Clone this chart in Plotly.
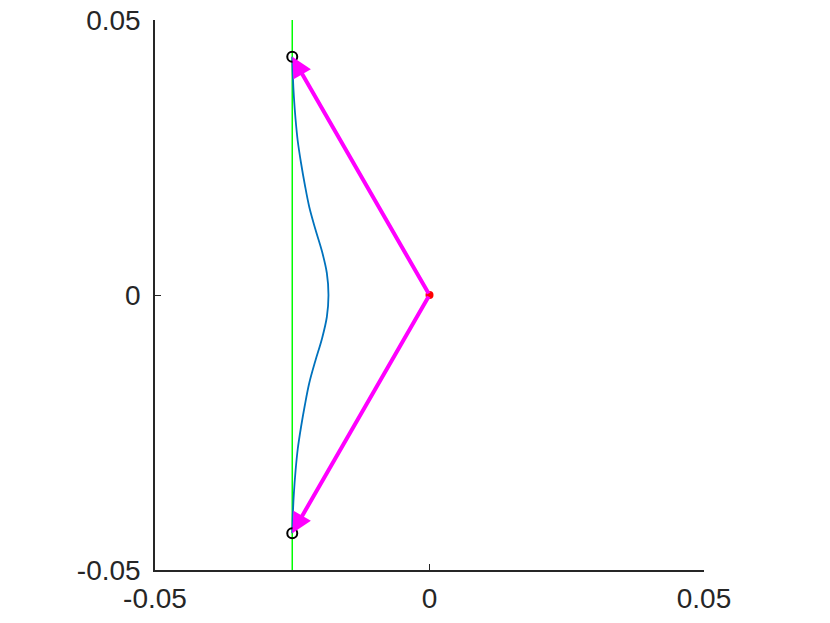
import plotly.graph_objects as go

# data
curve_y = [0.0433, 0.040, 0.036, 0.032, 0.028, 0.024, 0.020, 0.016, 0.012, 0.008, 0.004, 0.0,
           -0.004, -0.008, -0.012, -0.016, -0.020, -0.024, -0.028, -0.032, -0.036, -0.040, -0.0433]
curve_x = [-0.0250, -0.0249, -0.0247, -0.0244, -0.0240, -0.0234, -0.0227, -0.0219, -0.0208, -0.0196, -0.0187, -0.0184,
           -0.0187, -0.0196, -0.0208, -0.0219, -0.0227, -0.0234, -0.0240, -0.0244, -0.0247, -0.0249, -0.0250]
wall_x = [-0.025, -0.025]
wall_y = [-0.05, 0.05]
origin = (0.0, 0.0)
tips_x = [-0.025, -0.025]
tips_y = [0.0433, -0.0433]
tick_vals = [-0.05, 0, 0.05]
tick_text = ["-0.05", "0", "0.05"]

FONT = "Liberation Sans, Arial, sans-serif"
AXC = "#262626"

fig = go.Figure()
fig.add_trace(go.Scatter(x=wall_x, y=wall_y, mode="lines",
                         line=dict(color="#00ff00", width=1.5), showlegend=False))
fig.add_trace(go.Scatter(x=curve_x, y=curve_y, mode="lines",
                         line=dict(color="#0072bd", width=1.8, shape="spline"), showlegend=False))
for tx, ty in zip(tips_x, tips_y):
    fig.add_annotation(x=tx, y=ty, ax=origin[0], ay=origin[1], xref="x", yref="y",
                       axref="x", ayref="y", showarrow=True, text="",
                       arrowhead=2, arrowsize=1.0, arrowwidth=4, arrowcolor="#ff00ff")
fig.add_trace(go.Scatter(x=tips_x, y=tips_y, mode="markers",
                         marker=dict(symbol="circle-open", size=10, color="black", line=dict(width=2)),
                         showlegend=False))
fig.add_trace(go.Scatter(x=[origin[0]], y=[origin[1]], mode="markers",
                         marker=dict(symbol="circle", size=8, color="#ff0000"), showlegend=False))

axis_common = dict(range=[-0.05, 0.05], tickvals=tick_vals, ticktext=tick_text,
                   showgrid=False, zeroline=False, showline=True, linecolor=AXC, linewidth=1.5,
                   ticks="inside", ticklen=6, tickwidth=1.2, tickcolor=AXC, automargin=False,
                   ticklabeloverflow="allow",
                   tickfont=dict(family=FONT, size=28, color=AXC), mirror=False)
fig.update_xaxes(**axis_common, ticklabelstandoff=3)
fig.update_yaxes(**axis_common, ticklabelstandoff=7)
fig.update_layout(width=830, height=623, margin=dict(l=155, r=126, t=20, b=53),
                  plot_bgcolor="white", paper_bgcolor="white", showlegend=False)
fig.write_html("out.html", config={"displayModeBar": False},
               post_script="document.body.style.margin='0';")
